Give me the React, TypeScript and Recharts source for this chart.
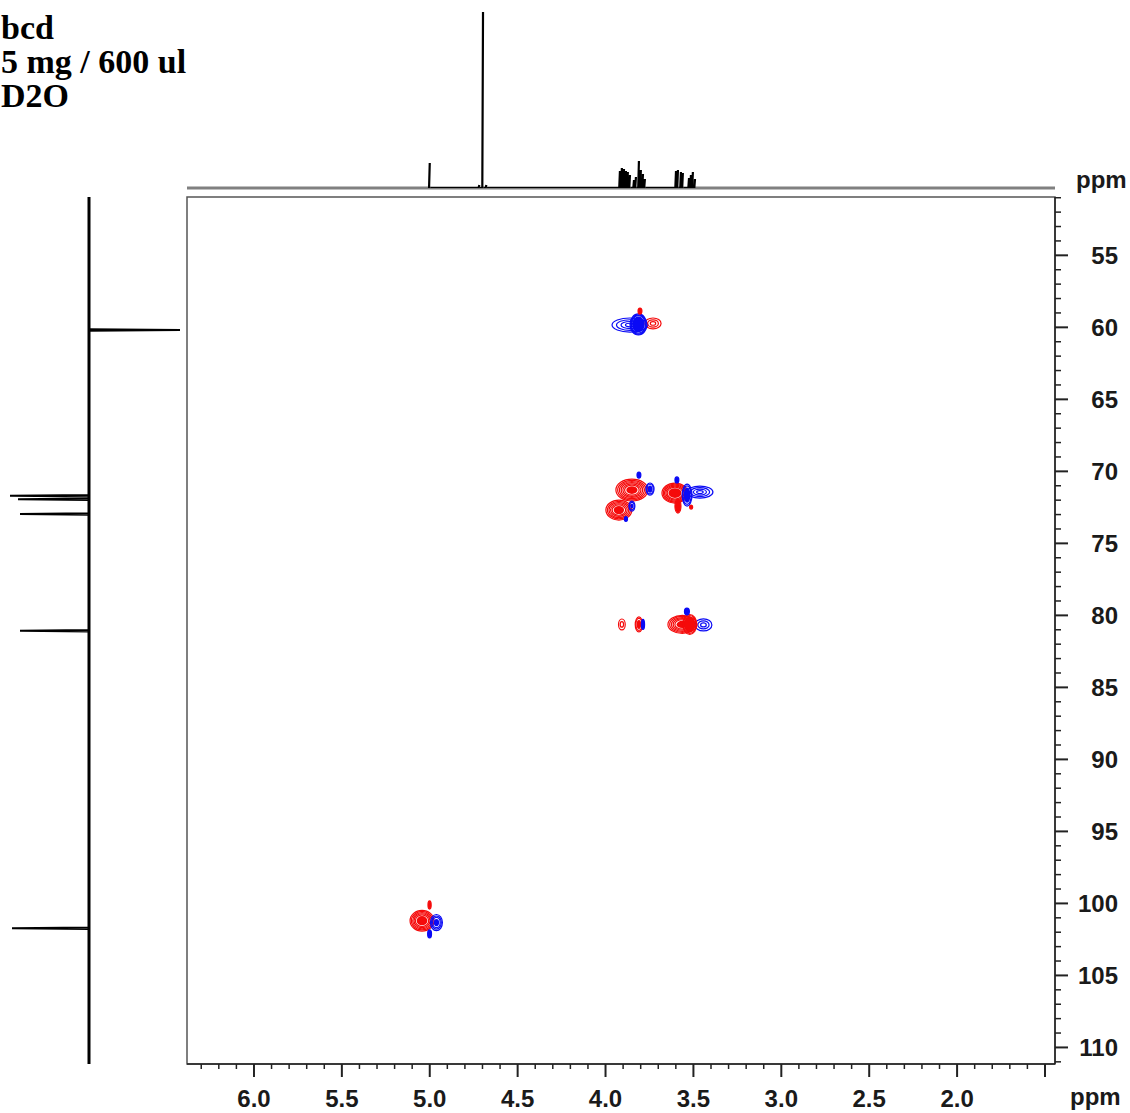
import React from 'react';
import {
  ScatterChart,
  Scatter,
  LineChart,
  Line,
  XAxis,
  YAxis,
  ReferenceLine,
  ReferenceArea,
} from 'recharts';

const titleLines = ['bcd', '5 mg / 600 ul', 'D2O'];

// visible window, ppm
const H_RANGE = [1.443, 6.381];
const C_RANGE = [50.95, 111.15];

const hTicks = [
  6.3, 6.2, 6.1, 6.0, 5.9, 5.8, 5.7, 5.6, 5.5, 5.4, 5.3, 5.2, 5.1, 5.0, 4.9, 4.8, 4.7,
  4.6, 4.5, 4.4, 4.3, 4.2, 4.1, 4.0, 3.9, 3.8, 3.7, 3.6, 3.5, 3.4, 3.3, 3.2, 3.1, 3.0,
  2.9, 2.8, 2.7, 2.6, 2.5, 2.4, 2.3, 2.2, 2.1, 2.0, 1.9, 1.8, 1.7, 1.6, 1.5,
];
const hLabels = ['6.0', '5.5', '5.0', '4.5', '4.0', '3.5', '3.0', '2.5', '2.0'];

const cTicks = [
  51, 52, 53, 54, 55, 56, 57, 58, 59, 60, 61, 62, 63, 64, 65, 66, 67, 68, 69, 70, 71,
  72, 73, 74, 75, 76, 77, 78, 79, 80, 81, 82, 83, 84, 85, 86, 87, 88, 89, 90, 91, 92,
  93, 94, 95, 96, 97, 98, 99, 100, 101, 102, 103, 104, 105, 106, 107, 108, 109, 110, 111,
];
const cLabels = ['55', '60', '65', '70', '75', '80', '85', '90', '95', '100', '105', '110'];

// 1H projection (top): peak position and height
const protonPeaks = [
  { ppm: 5.0, h: 25 },
  { ppm: 4.718, h: 3 },
  { ppm: 4.697, h: 176 },
  { ppm: 4.678, h: 3 },
  { ppm: 3.918, h: 17 },
  { ppm: 3.907, h: 20 },
  { ppm: 3.895, h: 19 },
  { ppm: 3.884, h: 17 },
  { ppm: 3.873, h: 16 },
  { ppm: 3.861, h: 13 },
  { ppm: 3.838, h: 8 },
  { ppm: 3.827, h: 11 },
  { ppm: 3.81, h: 27 },
  { ppm: 3.799, h: 18 },
  { ppm: 3.787, h: 14 },
  { ppm: 3.776, h: 9 },
  { ppm: 3.599, h: 17 },
  { ppm: 3.588, h: 18 },
  { ppm: 3.571, h: 16 },
  { ppm: 3.56, h: 15 },
  { ppm: 3.525, h: 10 },
  { ppm: 3.514, h: 13 },
  { ppm: 3.503, h: 16 },
  { ppm: 3.491, h: 9 },
];

// 13C projection (left)
const carbonPeaks = [
  { ppm: 60.19, h: -91 },
  { ppm: 71.69, h: 79 },
  { ppm: 71.94, h: 71 },
  { ppm: 72.96, h: 69 },
  { ppm: 81.07, h: 69 },
  { ppm: 101.73, h: 77 },
];

// HSQC contours: centre (h, c), half widths (dh, dc) in ppm, phase sign,
// number of contour levels and the saturated core fraction
const contours = [
  // C6 / H6
  { h: 3.861, c: 59.84, dh: 0.102, dc: 0.49, sign: -1, rings: 4, core: 0 },
  { h: 3.73, c: 59.73, dh: 0.046, dc: 0.38, sign: 1, rings: 3, core: 0 },
  { h: 3.813, c: 59.8, dh: 0.048, dc: 0.73, sign: -1, rings: 3, core: 0.75 },
  { h: 3.804, c: 58.87, dh: 0.011, dc: 0.21, sign: 1, rings: 1, core: 1 },
  // C5 / H5 and C3 / H3
  { h: 3.85, c: 71.3, dh: 0.091, dc: 0.76, sign: 1, rings: 6, core: 0.35 },
  { h: 3.747, c: 71.23, dh: 0.023, dc: 0.42, sign: -1, rings: 2, core: 0.6 },
  { h: 3.81, c: 70.26, dh: 0.011, dc: 0.21, sign: -1, rings: 1, core: 1 },
  { h: 3.924, c: 72.69, dh: 0.074, dc: 0.69, sign: 1, rings: 5, core: 0.4 },
  { h: 3.85, c: 72.41, dh: 0.017, dc: 0.35, sign: -1, rings: 2, core: 0.5 },
  { h: 3.884, c: 73.31, dh: 0.009, dc: 0.17, sign: -1, rings: 1, core: 1 },
  // C2 / H2
  { h: 3.463, c: 71.44, dh: 0.074, dc: 0.42, sign: -1, rings: 4, core: 0 },
  { h: 3.605, c: 71.51, dh: 0.074, dc: 0.69, sign: 1, rings: 5, core: 0.5 },
  { h: 3.588, c: 72.41, dh: 0.017, dc: 0.49, sign: 1, rings: 1, core: 1 },
  { h: 3.536, c: 71.65, dh: 0.028, dc: 0.76, sign: -1, rings: 2, core: 0.7 },
  { h: 3.594, c: 70.6, dh: 0.011, dc: 0.21, sign: -1, rings: 1, core: 1 },
  { h: 3.513, c: 72.48, dh: 0.009, dc: 0.14, sign: 1, rings: 1, core: 1 },
  // C4 / H4
  { h: 3.907, c: 80.63, dh: 0.019, dc: 0.38, sign: 1, rings: 2, core: 0 },
  { h: 3.81, c: 80.63, dh: 0.021, dc: 0.52, sign: 1, rings: 2, core: 0.6 },
  { h: 3.787, c: 80.63, dh: 0.009, dc: 0.35, sign: -1, rings: 1, core: 1 },
  { h: 3.443, c: 80.66, dh: 0.048, dc: 0.42, sign: -1, rings: 3, core: 0 },
  { h: 3.563, c: 80.63, dh: 0.082, dc: 0.63, sign: 1, rings: 5, core: 0.4 },
  { h: 3.521, c: 80.63, dh: 0.04, dc: 0.69, sign: 1, rings: 2, core: 0.8 },
  { h: 3.537, c: 79.73, dh: 0.014, dc: 0.24, sign: -1, rings: 1, core: 1 },
  // C1 / H1
  { h: 5.044, c: 101.2, dh: 0.068, dc: 0.72, sign: 1, rings: 5, core: 0.45 },
  { h: 4.962, c: 101.33, dh: 0.034, dc: 0.56, sign: -1, rings: 3, core: 0.45 },
  { h: 5.001, c: 102.12, dh: 0.011, dc: 0.28, sign: -1, rings: 1, core: 1 },
  { h: 5.001, c: 100.11, dh: 0.009, dc: 0.28, sign: 1, rings: 1, core: 1 },
];

const PLOT = { left: 187, top: 197, right: 1055, bottom: 1064 };
const PX_PER_H = (PLOT.right - PLOT.left) / (H_RANGE[1] - H_RANGE[0]);
const PX_PER_C = (PLOT.bottom - PLOT.top) / (C_RANGE[1] - C_RANGE[0]);

const RED = '#f50a0a';
const BLUE = '#0a0af5';
const AXIS = '#222';
const LABEL_FONT = '"Liberation Sans", Arial, Helvetica, sans-serif';

// each peak becomes a thin triangle, separated from the next by a gap
const toTrace = (peaks: { ppm: number; h: number }[], hw: number) =>
  peaks.flatMap((p) => [
    { pos: p.ppm + hw, v: 0 },
    { pos: p.ppm, v: p.h },
    { pos: p.ppm - hw, v: 0 },
    { pos: p.ppm - hw, v: null },
  ]);

const protonTrace = toTrace(protonPeaks, 0.004).sort((a, b) => a.pos - b.pos);
const carbonTrace = toTrace(carbonPeaks, 0.05).sort((a, b) => a.pos - b.pos);

const Blob = (props: any) => {
  const { cx, cy, payload } = props;
  if (cx == null || cy == null) return <g />;
  const rx = payload.dh * PX_PER_H;
  const ry = payload.dc * PX_PER_C;
  const color = payload.sign > 0 ? RED : BLUE;
  const n = payload.rings;
  const core = payload.core;
  const parts = [];
  for (let k = 0; k < n; k++) {
    const f = 1 - (k * (1 - core)) / n;
    parts.push(
      <ellipse key={k} cx={cx} cy={cy} rx={rx * f} ry={ry * f} fill="none" stroke={color} strokeWidth={1.2} />
    );
  }
  if (core > 0) {
    parts.push(<ellipse key="core" cx={cx} cy={cy} rx={rx * core} ry={ry * core} fill={color} />);
  }
  return <g>{parts}</g>;
};

const HTick = (props: any) => {
  const { x, y, payload } = props;
  const v = payload.value;
  const major = Math.abs(v * 2 - Math.round(v * 2)) < 1e-6;
  const label = v.toFixed(1);
  return (
    <g>
      <line x1={x} x2={x} y1={y} y2={y + (major ? 13 : 5)} stroke={AXIS} strokeWidth={major ? 2 : 1.5} />
      {major && hLabels.includes(label) && (
        <text x={x} y={y + 43} textAnchor="middle" fontFamily={LABEL_FONT} fontWeight="bold" fontSize={24} fill="#1a1a1a">
          {label}
        </text>
      )}
    </g>
  );
};

const CTick = (props: any) => {
  const { x, y, payload } = props;
  const v = payload.value;
  const major = v % 5 === 0;
  const label = String(v);
  return (
    <g>
      <line x1={x} x2={x + (major ? 13 : 6)} y1={y} y2={y} stroke={AXIS} strokeWidth={major ? 2 : 1.5} />
      {major && cLabels.includes(label) && (
        <text x={x + 63} y={y + 9} textAnchor="end" fontFamily={LABEL_FONT} fontWeight="bold" fontSize={24} fill="#1a1a1a">
          {label}
        </text>
      )}
    </g>
  );
};

const abs = (left: number, top: number): React.CSSProperties => ({ position: 'absolute', left, top });

const ppmStyle: React.CSSProperties = {
  position: 'absolute',
  fontFamily: LABEL_FONT,
  fontWeight: 'bold',
  fontSize: 24,
  lineHeight: '24px',
  color: '#1a1a1a',
};

export default function App() {
  return (
    <div style={{ position: 'absolute', left: 0, top: 0, width: 1130, height: 1113, background: '#fff', overflow: 'hidden' }}>
      <div
        style={{
          ...abs(1, 11),
          fontFamily: '"Liberation Serif", "Times New Roman", serif',
          fontWeight: 'bold',
          fontSize: 34,
          lineHeight: '34px',
          color: '#000',
          whiteSpace: 'pre',
        }}
      >
        {titleLines.map((t) => (
          <div key={t}>{t}</div>
        ))}
      </div>

      {/* 2D contour plot */}
      <div style={abs(0, 0)}>
        <ScatterChart width={1130} height={1113} margin={{ top: PLOT.top, left: PLOT.left, right: 15, bottom: 9 }}>
          <XAxis
            type="number"
            dataKey="h"
            domain={H_RANGE}
            reversed
            allowDataOverflow
            ticks={hTicks}
            interval={0}
            height={40}
            tickSize={0}
            tickMargin={0}
            tickLine={false}
            tick={<HTick />}
            axisLine={{ stroke: AXIS, strokeWidth: 1.5 }}
          />
          <YAxis
            type="number"
            dataKey="c"
            orientation="right"
            domain={C_RANGE}
            reversed
            allowDataOverflow
            ticks={cTicks}
            interval={0}
            width={60}
            tickSize={0}
            tickMargin={0}
            tickLine={false}
            tick={<CTick />}
            axisLine={{ stroke: AXIS, strokeWidth: 1.5 }}
          />
          <ReferenceArea
            x1={H_RANGE[0]}
            x2={H_RANGE[1]}
            y1={C_RANGE[0]}
            y2={C_RANGE[1]}
            ifOverflow="visible"
            fill="none"
            stroke="#555"
            strokeWidth={1.5}
          />
          <Scatter data={contours} shape={<Blob />} isAnimationActive={false} />
        </ScatterChart>
      </div>

      {/* 1H projection */}
      <div style={abs(0, 0)}>
        <LineChart width={1130} height={200} data={protonTrace} margin={{ top: 12, left: PLOT.left, right: 1130 - PLOT.right, bottom: 12 }}>
          <XAxis type="number" dataKey="pos" domain={H_RANGE} reversed allowDataOverflow hide />
          <YAxis type="number" domain={[0, 176]} allowDataOverflow hide />
          <ReferenceLine y={0} stroke="#808080" strokeWidth={3} ifOverflow="visible" />
          <Line
            type="linear"
            dataKey="v"
            stroke="#000"
            strokeWidth={2.2}
            dot={false}
            connectNulls={false}
            isAnimationActive={false}
          />
        </LineChart>
      </div>

      {/* 13C projection */}
      <div style={abs(0, 0)}>
        <LineChart
          width={PLOT.left}
          height={1113}
          layout="vertical"
          data={carbonTrace}
          margin={{ top: PLOT.top, left: 0, right: 0, bottom: 1113 - PLOT.bottom }}
        >
          <XAxis type="number" domain={[-98, 89]} reversed allowDataOverflow hide />
          <YAxis type="number" dataKey="pos" domain={C_RANGE} allowDataOverflow hide />
          <ReferenceLine x={0} stroke="#000" strokeWidth={3} ifOverflow="visible" />
          <Line
            type="linear"
            dataKey="v"
            stroke="#000"
            strokeWidth={2}
            dot={false}
            connectNulls={false}
            isAnimationActive={false}
          />
        </LineChart>
      </div>

      <div style={{ ...ppmStyle, left: 1076, top: 168 }}>ppm</div>
      <div style={{ ...ppmStyle, left: 1070, top: 1085 }}>ppm</div>
    </div>
  );
}
